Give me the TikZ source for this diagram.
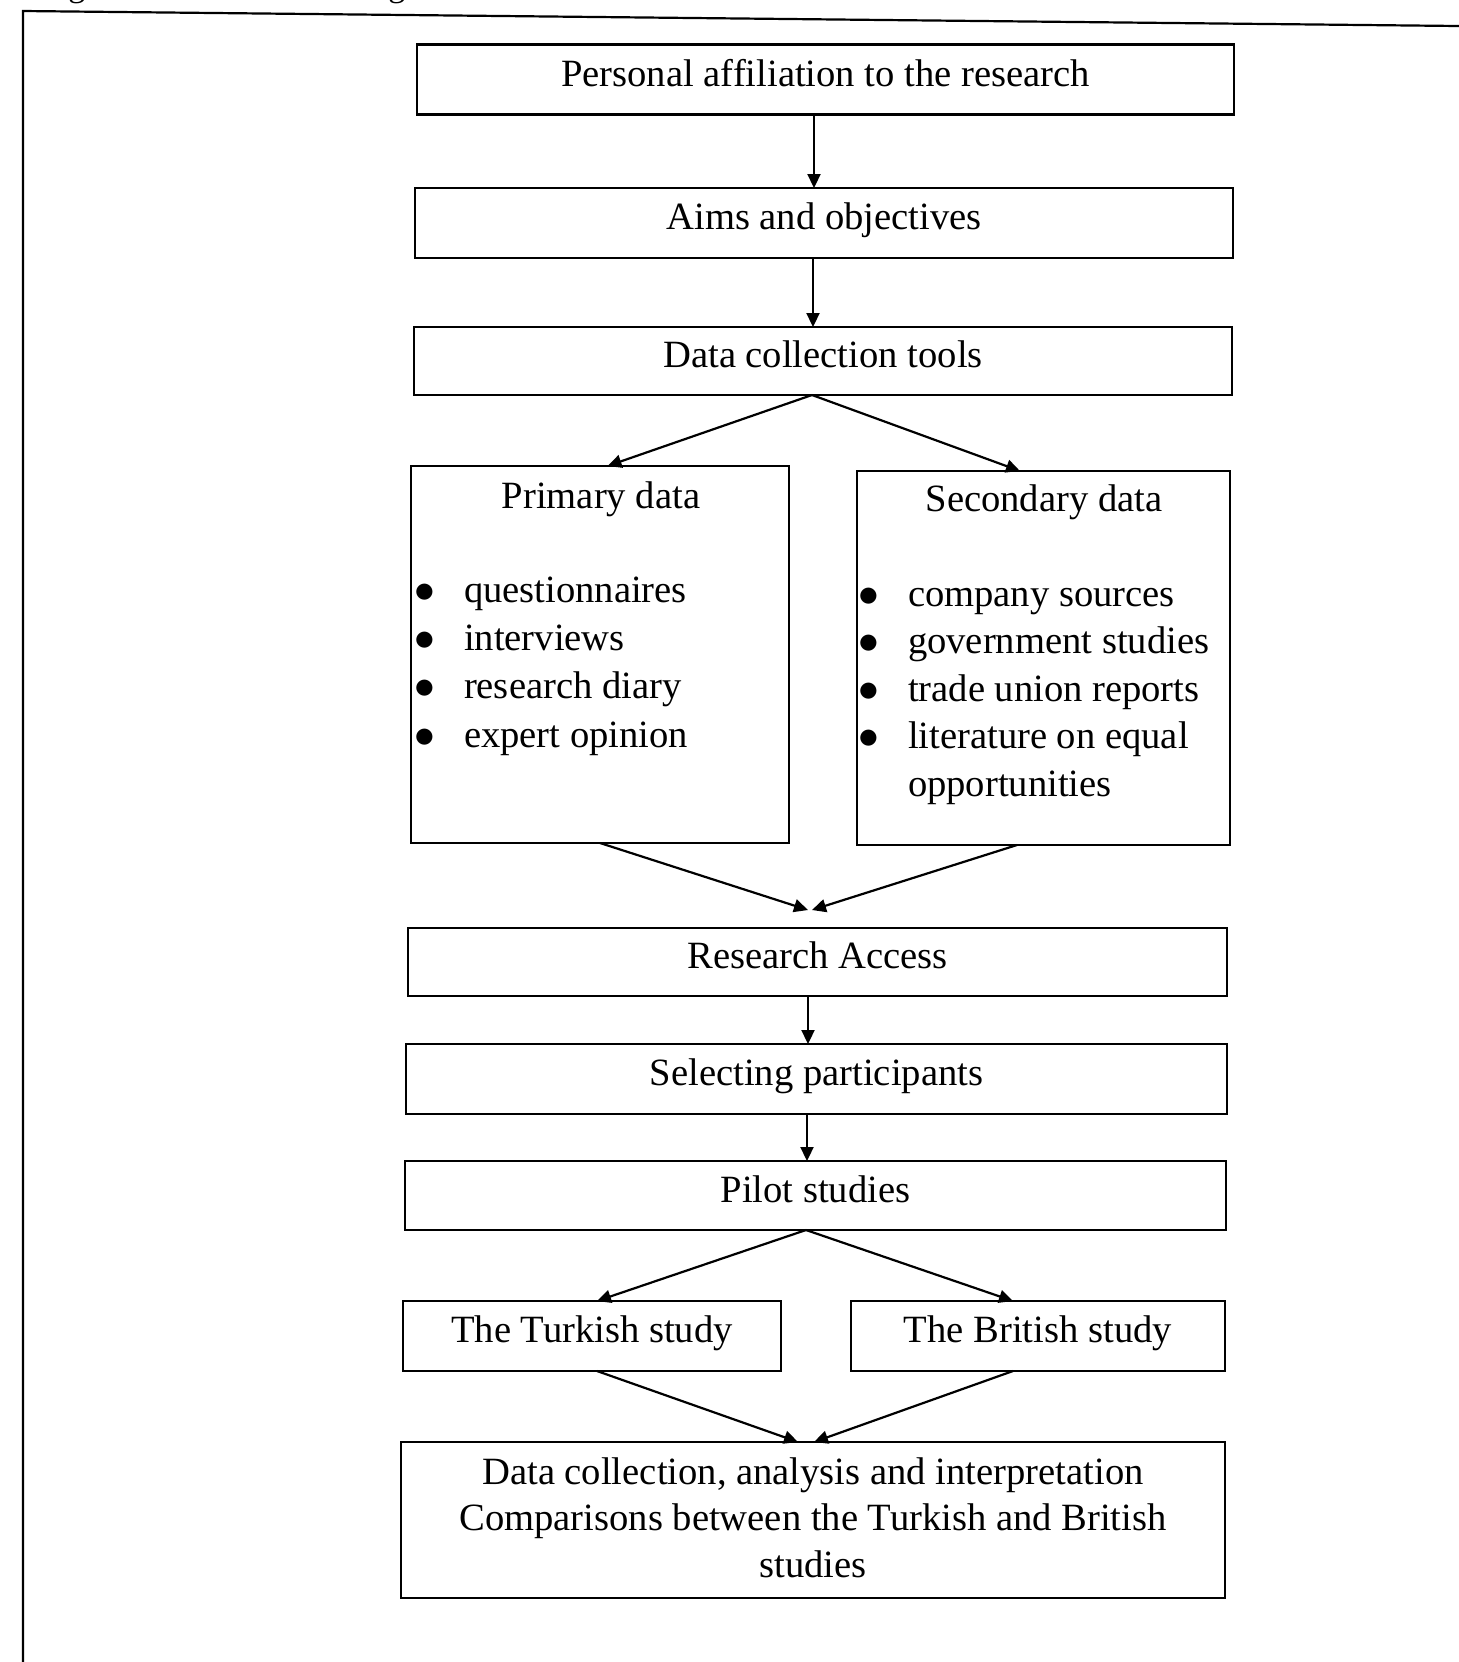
\documentclass[tikz,border=0pt]{standalone}
\usepackage{fontspec}
\setmainfont{Liberation Serif}
\usetikzlibrary{arrows.meta}
\newcommand{\bul}{\makebox[22pt][l]{\hspace{-3pt}$\bullet$}}
\begin{document}
\begin{tikzpicture}[x=0.5pt,y=-0.5pt,
  every node/.style={inner sep=0pt, outer sep=0pt},
  txt/.style={font=\fontsize{19.3}{24.2}\selectfont},
  box/.style={draw, line width=1.1pt, txt, text height=13.5pt, text depth=7pt},
  conn/.style={line width=1.1pt, -{Triangle[length=7pt,width=6.5pt]}}]
\useasboundingbox (0,0) rectangle (1459,1662);
% cut-off caption and frame
\node[anchor=base west, font=\fontsize{17}{20}\selectfont] (title) at (40,-4) {Figure 4.1: Research design};
\draw[line width=1.1pt] (1459,26) -- (23,11) -- (23,1662);
% boxes
\node[box, minimum width=408.5pt, minimum height=35pt] (b1) at (825.5,79.5) {Personal affiliation to the research};
\node[box, minimum width=409pt, minimum height=35pt] (b2) at (824,223) {Aims and objectives};
\node[box, minimum width=409pt, minimum height=34pt] (b3) at (823,361) {Data collection tools};
\node[draw, line width=1.1pt, minimum width=189pt, minimum height=188.5pt] (prim) at (600,654.5) {};
\node[draw, line width=1.1pt, minimum width=186.5pt, minimum height=187pt] (sec) at (1043.5,658) {};
\node[box, minimum width=409.5pt, minimum height=34pt] (acc) at (817.5,962) {Research Access};
\node[box, minimum width=410.5pt, minimum height=35pt] (sel) at (816.5,1079) {Selecting participants};
\node[box, minimum width=410.5pt, minimum height=34.5pt] (pil) at (815.5,1195.5) {Pilot studies};
\node[box, minimum width=189pt, minimum height=35pt] (tur) at (592,1336) {The Turkish study};
\node[box, minimum width=187pt, minimum height=35pt] (bri) at (1038,1336) {The British study};
\node[draw, line width=1.1pt, minimum width=412pt, minimum height=78pt] (fin) at (813,1520) {};
% texts in the large boxes
\node[txt, anchor=base] (primh) at (601,508) {Primary data};
\node[txt, anchor=base west] (priml) at (420,602) {\begin{tabular}[t]{@{}l@{}}
\bul questionnaires\\
\bul interviews\\
\bul research diary\\
\bul expert opinion
\end{tabular}};
\node[txt, anchor=base] (sech) at (1044,511) {Secondary data};
\node[txt, anchor=base west, font=\fontsize{19.3}{23.8}\selectfont] (secl) at (864,606) {\begin{tabular}[t]{@{}l@{}}
\bul company sources\\
\bul government studies\\
\bul trade union reports\\
\bul literature on equal\\
\hspace*{22pt}opportunities
\end{tabular}};
\node[txt, anchor=base, font=\fontsize{19.3}{23.3}\selectfont] (fint) at (813,1484) {\begin{tabular}[t]{@{}c@{}}
Data collection, analysis and interpretation\\
Comparisons between the Turkish and British\\
studies
\end{tabular}};
% connectors
\draw[conn] ([xshift=-5.75pt]b1.south) -- ([xshift=-5pt]b2.north);
\draw[conn] ([xshift=-5.5pt]b2.south) -- ([xshift=-5pt]b3.north);
\draw[conn] ([xshift=-5.5pt]b3.south) -- ([xshift=3.75pt]prim.north);
\draw[conn] ([xshift=-5.5pt]b3.south) -- ([xshift=-11.75pt]sec.north);
\draw[conn] (prim.south) -- ([xshift=-4.75pt,yshift=9pt]acc.north);
\draw[conn] ([xshift=-13.25pt]sec.south) -- ([xshift=-2.75pt,yshift=9pt]acc.north);
\draw[conn] ([xshift=-4.75pt]acc.south) -- ([xshift=-4.25pt]sel.north);
\draw[conn] ([xshift=-4.75pt]sel.south) -- ([xshift=-4.25pt]pil.north);
\draw[conn] ([xshift=-4.75pt]pil.south) -- ([xshift=2.5pt]tur.north);
\draw[conn] ([xshift=-4.75pt]pil.south) -- ([xshift=-12.5pt]bri.north);
\draw[conn] ([xshift=2.5pt]tur.south) -- ([xshift=-7.5pt]fin.north);
\draw[conn] ([xshift=-12.5pt]bri.south) -- ([xshift=0.5pt]fin.north);
\end{tikzpicture}
\end{document}
